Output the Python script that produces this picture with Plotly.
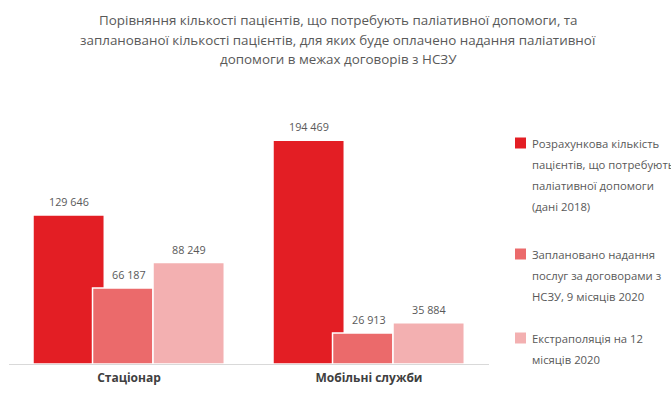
import plotly.graph_objects as go

categories = ["Стаціонар", "Мобільні служби"]
series_names = [
    "Розрахункова кількість пацієнтів, що потребують паліативної допомоги (дані 2018)",
    "Заплановано надання послуг за договорами з НСЗУ, 9 місяців 2020",
    "Екстраполяція на 12 місяців 2020",
]
calc_2018 = [129646, 194469]
planned_9m = [66187, 26913]
extrap_12m = [88249, 35884]

legend_lines = [
    ["Розрахункова кількість", "пацієнтів, що потребують", "паліативної допомоги", "(дані 2018)"],
    ["Заплановано надання", "послуг за договорами з", "НСЗУ, 9 місяців 2020"],
    ["Екстраполяція на 12", "місяців 2020"],
]
title_lines = [
    "Порівняння кількості пацієнтів, що потребують паліативної допомоги, та",
    "запланованої кількості пацієнтів, для яких буде оплачено надання паліативної",
    "допомоги в межах договорів з НСЗУ",
]

colors = ["#E31E24", "#EB6A6B", "#F3B0B1"]
offsets = [-0.4, -0.152, 0.1]
widths = [0.297, 0.252, 0.297]
label_dx = [-0.252, 0.0, 0.25]

W, H = 671, 394
ML, MR, MT, MB = 9, 182, 124, 30
PW, PH = W - ML - MR, H - MT - MB


def px(x):
    return (x - ML) / PW


def py(y):
    return (H - MB - y) / PH


font_family = "Open Sans"
fig = go.Figure()
all_series = [calc_2018, planned_9m, extrap_12m]
for i, vals in enumerate(all_series):
    fig.add_trace(go.Bar(
        x=categories, y=vals, name=series_names[i],
        marker=dict(color=colors[i], line=dict(color="white", width=1.5)),
        offset=offsets[i], width=widths[i], showlegend=False,
    ))

annotations = []
for i, vals in enumerate(all_series):
    for j, v in enumerate(vals):
        annotations.append(dict(
            x=j + label_dx[i], y=v, xref="x", yref="y",
            text=f"{v:,}".replace(",", " "), showarrow=False,
            yanchor="bottom", yshift=4,
            font=dict(family=font_family, size=10.8, color="#595959"),
        ))

title_y = [20, 39.5, 59]
for t, yy in zip(title_lines, title_y):
    annotations.append(dict(
        x=px(338), y=py(yy), xref="paper", yref="paper", text=t,
        showarrow=False, xanchor="center", yanchor="middle",
        font=dict(family=font_family, size=13.4, color="#595959"),
    ))

legend_top = [143, 254, 338]
shapes = []
for i, lines in enumerate(legend_lines):
    y0 = legend_top[i]
    shapes.append(dict(
        type="rect", xref="paper", yref="paper",
        x0=px(515), x1=px(526), y0=py(y0 - 5.5), y1=py(y0 + 5.5),
        fillcolor=colors[i], line=dict(width=0),
    ))
    for k, line in enumerate(lines):
        annotations.append(dict(
            x=px(530), y=py(y0 + 21 * k), xref="paper", yref="paper",
            text=line, showarrow=False, xanchor="left", yanchor="middle",
            font=dict(family=font_family, size=11.3, color="#595959"),
        ))

fig.update_layout(
    width=W, height=H,
    margin=dict(l=ML, r=MR, t=MT, b=MB),
    paper_bgcolor="white", plot_bgcolor="white",
    barmode="overlay",
    xaxis=dict(
        type="category", range=[-0.5, 1.5], showline=True, linecolor="#D9D9D9",
        linewidth=1, showgrid=False, ticks="", zeroline=False,
        ticklabelstandoff=3,
        tickfont=dict(family=font_family, size=12, color="#404040", weight="bold"),
    ),
    yaxis=dict(range=[0, 208700], visible=False),
    annotations=annotations, shapes=shapes,
    font=dict(family=font_family),
)

fig.write_html("out.html", config={"displayModeBar": False},
               post_script="document.body.style.margin='0';")
